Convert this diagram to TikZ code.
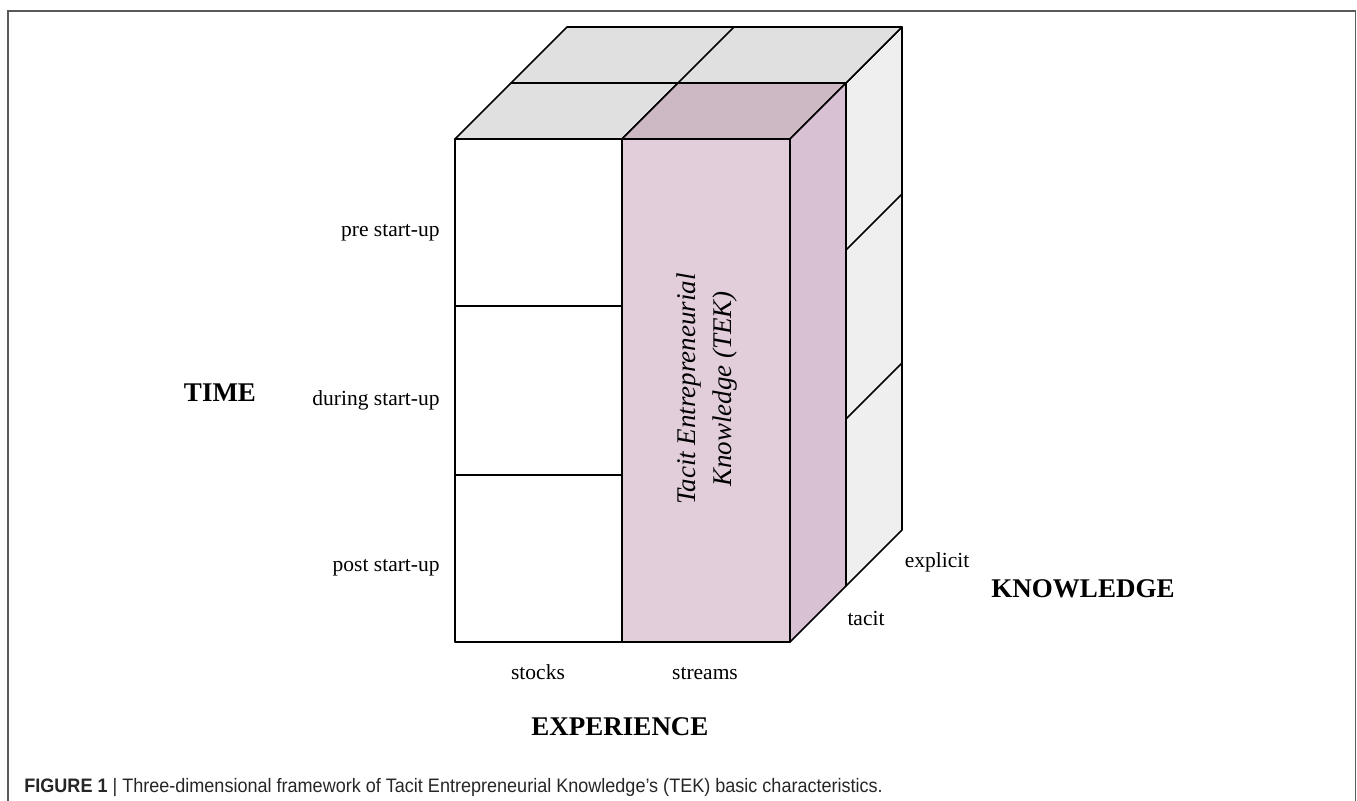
\documentclass[tikz,border=0pt]{standalone}
\usepackage{fontspec}
\setmainfont{Liberation Serif}
\newfontfamily\capfont{Liberation Sans}
\usepackage{tikz}
\usetikzlibrary{positioning}
\usetikzlibrary{calc}
\definecolor{pinkfront}{RGB}{226,206,219}
\definecolor{pinkside}{RGB}{215,193,210}
\definecolor{pinktop}{RGB}{204,185,196}
\definecolor{greytop}{RGB}{224,224,224}
\definecolor{greyside}{RGB}{239,239,239}
\tikzstyle{face} = [draw, line width = 0.8pt, line join = round]
\tikzstyle{tick} = [font = \fontsize{10.75}{13}\selectfont, inner sep = 0pt, anchor = base]
\tikzstyle{dimension} = [font = \fontsize{13.5}{16}\selectfont\bfseries, inner sep = 0pt, anchor = base]

\begin{document}
\begin{tikzpicture}[x = 0.5pt, y = -0.5pt]
	\useasboundingbox (0,0) rectangle (1357,800);
	
	% Frame
	\draw[black!65, line width = 0.6pt] (8,830) -- (8,11) -- (1355.5,11) -- (1355.5,830);
	
	% Back layer (explicit), right side
	\draw[face, fill = greyside] (846,83) -- (902,27) -- (902,530) -- (846,586) -- cycle;
	\draw[face] (846,250) -- (902,194);
	\draw[face] (846,419) -- (902,363);
	
	% Top faces
	\draw[face, fill = greytop] (511,83) -- (846,83) -- (902,27) -- (567,27) -- cycle;
	\draw[face] (678,83) -- (734,27);
	\draw[face, fill = greytop] (455,139) -- (622,139) -- (678,83) -- (511,83) -- cycle;
	\draw[face, fill = pinktop] (622,139) -- (790,139) -- (846,83) -- (678,83) -- cycle;
	
	% TEK block, right side
	\draw[face, fill = pinkside] (790,139) -- (846,83) -- (846,586) -- (790,642) -- cycle;
	
	% Stocks column
	\draw[face, fill = white] (455,139) rectangle (622,642);
	\draw[face] (455,306) -- (622,306);
	\draw[face] (455,475) -- (622,475);
	
	% Streams column (TEK)
	\draw[face, fill = pinkfront] (622,139) rectangle (790,642);
	\node[rotate = 90, align = center, font = \fontsize{13.5}{18}\selectfont\itshape] (tek) at (707,389) {Tacit Entrepreneurial\\Knowledge (TEK)};
	
	% Time rows
	\coordinate (pre) at (455,233);
	\coordinate (during) at (455,400);
	\coordinate (post) at (455,568);
	\node[tick, anchor = base east, left = 7.5pt of pre] (prel) {pre start-up};
	\node[tick, anchor = base east, left = 7.5pt of during] (duringl) {during start-up};
	\node[tick, anchor = base east, left = 7.5pt of post] (postl) {post start-up};
	\node[dimension] (time) at (220,401) {TIME};
	
	% Experience columns
	\node[tick] (stocks) at (538,679) {stocks};
	\node[tick] (streams) at (705,679) {streams};
	\node[dimension] (experience) at (620,735) {EXPERIENCE};
	
	% Knowledge layers
	\node[tick] (explicit) at (937,567) {explicit};
	\node[tick] (tacit) at (866,625) {tacit};
	\node[dimension] (knowledge) at (1083,597) {KNOWLEDGE};
	
	% Caption
	\node[anchor = base west, inner sep = 0pt, text = black!85] (caption) at (24,792) {\scalebox{0.925}[1]{\capfont\fontsize{9.75}{12}\selectfont\textbf{FIGURE 1} | Three-dimensional framework of Tacit Entrepreneurial Knowledge’s (TEK) basic characteristics.}};
	
\end{tikzpicture}
\end{document}
